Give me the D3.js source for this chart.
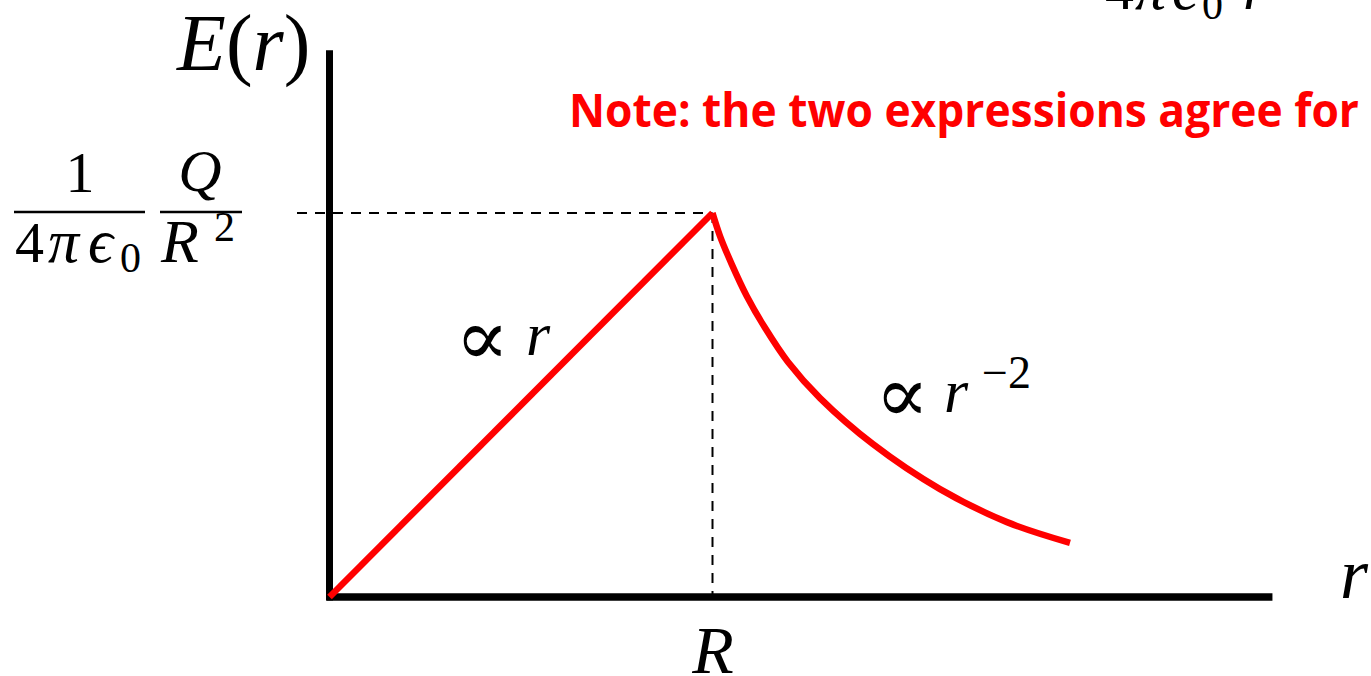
<!DOCTYPE html>
<html>
<head>
<meta charset="utf-8">
<script src="https://cdn.jsdelivr.net/npm/d3@7"></script>
<style>
  html, body { margin: 0; padding: 0; background: #fff; }
  svg { display: block; }
</style>
</head>
<body>
<svg id="chart" width="1371" height="676"></svg>
<script>
// ---- data (r in units of R, E in units of E(R)) ----
const insideR = [0, 1];
const insideE = [0, 1];
const outsideR = [1.0, 1.0196, 1.0501, 1.0893, 1.1371, 1.1971, 1.2807, 1.4191, 1.5940, 1.7689, 1.9334];
const outsideE = [1.0, 0.940, 0.867, 0.784, 0.701, 0.612, 0.518, 0.398, 0.281, 0.195, 0.141];
const xAxisMax = 2.462;
const yAxisMax = 1.424;
const noteText = "Note: the two expressions agree for";

const SERIF = "'Liberation Serif', 'DejaVu Serif', serif";
const PROP = "'DejaVu Sans ExtraLight', 'DejaVu Serif', serif";
const svg = d3.select("#chart");
const x = d3.scaleLinear().domain([0, 1]).range([329.5, 712.5]);
const y = d3.scaleLinear().domain([0, 1]).range([597, 213]);

// axes
svg.append("line").attr("x1", x(0)).attr("x2", x(0))
  .attr("y1", y(0) + 3.5).attr("y2", y(yAxisMax))
  .attr("stroke", "#000").attr("stroke-width", 7);
svg.append("line").attr("x1", x(0) - 3).attr("x2", x(xAxisMax))
  .attr("y1", y(0)).attr("y2", y(0))
  .attr("stroke", "#000").attr("stroke-width", 7.5);

// dashed guides
svg.append("line").attr("x1", 297).attr("x2", x(1))
  .attr("y1", y(1)).attr("y2", y(1))
  .attr("stroke", "#000").attr("stroke-width", 2).attr("stroke-dasharray", "10,8");
svg.append("line").attr("x1", x(1)).attr("x2", x(1))
  .attr("y1", y(1)).attr("y2", y(0))
  .attr("stroke", "#000").attr("stroke-width", 2).attr("stroke-dasharray", "10,8");

// curves
const lineLin = d3.line().x(d => x(d[0])).y(d => y(d[1]));
const lineCurve = d3.line().x(d => x(d[0])).y(d => y(d[1])).curve(d3.curveCatmullRom.alpha(0.5));
svg.append("path").datum(insideR.map((r, i) => [r, insideE[i]]))
  .attr("d", lineLin).attr("fill", "none").attr("stroke", "#ff0000").attr("stroke-width", 6.5);
svg.append("path").datum(outsideR.map((r, i) => [r, outsideE[i]]))
  .attr("d", lineCurve).attr("fill", "none").attr("stroke", "#ff0000").attr("stroke-width", 6.5);

// helpers
function txt(px, py, size) {
  return svg.append("text").attr("x", px).attr("y", py)
    .attr("font-family", SERIF).attr("font-size", size).attr("fill", "#000");
}
// E(r)
const er = txt(177, 70, 80);
er.append("tspan").attr("font-style", "italic").text("E");
er.append("tspan").text("(");
er.append("tspan").attr("font-style", "italic").text("r");
er.append("tspan").text(")");

// fraction 1/(4πϵ0) · Q/R²
txt(80, 192, 58).attr("text-anchor", "middle").text("1");
svg.append("line").attr("x1", 14).attr("x2", 145).attr("y1", 212).attr("y2", 212).attr("stroke", "#000").attr("stroke-width", 2.5);
txt(15, 262, 58).text("4");
txt(48, 262, 62).attr("font-style", "italic").text("π");
txt(88, 262, 62).attr("font-style", "italic").text("ϵ");
txt(120, 272, 42).text("0");
txt(200, 191, 60).attr("text-anchor", "middle").attr("font-style", "italic").text("Q");
svg.append("line").attr("x1", 160).attr("x2", 242).attr("y1", 212).attr("y2", 212).attr("stroke", "#000").attr("stroke-width", 2.5);
txt(161, 262, 62).attr("font-style", "italic").text("R");
txt(214, 241, 42).text("2");

// top-right partially cut expression
txt(1105, 9, 58).text("4");
txt(1135, 9, 62).attr("font-style", "italic").text("π");
txt(1172, 9, 62).attr("font-style", "italic").text("ϵ");
txt(1202, 19, 42).text("0");
txt(1243, 9, 62).attr("font-style", "italic").text("r");

// proportionality labels
txt(455, 365, 80).attr("font-family", PROP).attr("font-weight", 200).text("∝");
txt(526, 355, 62).attr("font-style", "italic").text("r");
txt(875, 422, 80).attr("font-family", PROP).attr("font-weight", 200).text("∝");
txt(944, 412, 62).attr("font-style", "italic").text("r");
txt(982, 388, 46).text("−2");

// axis labels
txt(713, 673, 68).attr("text-anchor", "middle").attr("font-style", "italic").text("R");
txt(1354, 598, 72).attr("text-anchor", "middle").attr("font-style", "italic").text("r");

// note
svg.append("text").attr("x", 569).attr("y", 127)
  .attr("font-family", "'Open Sans', 'Liberation Sans', sans-serif")
  .attr("font-weight", "bold").attr("font-size", 46).attr("fill", "#ff0000")
  .attr("textLength", 790).attr("lengthAdjust", "spacingAndGlyphs")
  .text(noteText);
</script>
</body>
</html>
